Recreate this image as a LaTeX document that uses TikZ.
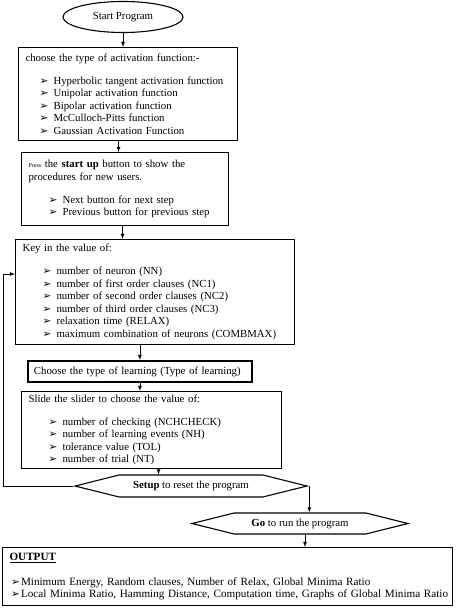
\documentclass[tikz,border=0pt]{standalone}
\usepackage{fontspec}
\setmainfont{Liberation Serif}
\newfontfamily\dingfont{DejaVu Sans}
\usepackage{tikz}
\usetikzlibrary{shapes.geometric}
\usetikzlibrary{shapes.symbols}
\usetikzlibrary{arrows}
% bullet with indent
\newcommand{\itm}[2][14pt]{\hspace*{#2}\makebox[#1][l]{\dingfont\bfseries\fontsize{10.5}{10.5}\selectfont ➢}}

\begin{document}
\begin{tikzpicture}
          [x=1pt, y=-1pt, >=latex, thick,
           box/.style = {draw, line width=1.1pt, anchor=north west, align=left, inner xsep=7pt, inner ysep=0pt, font=\fontsize{10.8}{12.5}\selectfont},
           hex/.style = {draw, line width=1.1pt, signal, signal to=east and west, signal pointer angle=28, inner sep=0pt, font=\fontsize{10.8}{12.5}\selectfont}]
          \useasboundingbox (0,0) rectangle (456,608);
          \node[draw, ellipse, line width=1.1pt, minimum width=120pt, minimum height=31pt, font=\fontsize{10.8}{12}\selectfont] (start) at (123,17) {Start Program};
          \node[box, minimum width=219pt, minimum height=93pt, text width=205pt] (act) at (18,47) {choose the type of activation function:-\\[10.5pt]
            \itm{14pt}Hyperbolic tangent activation function\\
            \itm{14pt}Unipolar activation function\\
            \itm{14pt}Bipolar activation function\\
            \itm{14pt}McCulloch-Pitts function\\
            \itm{14pt}Gaussian Activation Function};
          \node[box, minimum width=207pt, minimum height=73pt, text width=193pt] (press) at (21,152) {{\fontsize{6}{6}\selectfont Press} the \textbf{start up} button to show the\\
            procedures for new users.\\[10.5pt]
            \itm{20pt}Next button for next step\\
            \itm{20pt}Previous button for previous step};
          \node[box, minimum width=279pt, minimum height=105pt, text width=265pt] (key) at (15,239) {Key in the value of:\\[10.5pt]
            \itm{20pt}number of neuron (NN)\\
            \itm{20pt}number of first order clauses (NC1)\\
            \itm{20pt}number of second order clauses (NC2)\\
            \itm{20pt}number of third order clauses (NC3)\\
            \itm{20pt}relaxation time (RELAX)\\
            \itm{20pt}maximum combination of neurons (COMBMAX)};
          \node[box, line width=1.8pt, minimum width=224pt, minimum height=21pt, text width=212pt, inner xsep=6pt] (learn) at (27,360) {Choose the type of learning (Type of learning)};
          \node[box, minimum width=260pt, minimum height=77pt, text width=246pt] (slide) at (21,391) {Slide the slider to choose the value of:\\[10.5pt]
            \itm{20pt}number of checking (NCHCHECK)\\
            \itm{20pt}number of learning events (NH)\\
            \itm{20pt}tolerance value (TOL)\\
            \itm{20pt}number of trial (NT)};
          \node[hex, minimum width=232pt, minimum height=22pt] (setup) at (191,486) {\textbf{Setup} to reset the program};
          \node[hex, minimum width=216pt, minimum height=21pt] (go) at (300,523.5) {\textbf{Go} to run the program};
          \node[box, minimum width=450pt, minimum height=58pt, text width=449pt, inner xsep=0.5pt, font=\fontsize{11.15}{12.5}\selectfont] (out) at (2,547) {\hspace*{6.5pt}\underline{\textbf{OUTPUT}}\\[12pt]
            \itm[10pt]{8pt}Minimum Energy, Random clauses, Number of Relax, Global Minima Ratio\\
            \itm[10pt]{8pt}Local Minima Ratio, Hamming Distance, Computation time, Graphs of Global Minima Ratio};
          \coordinate (back) at (3,274);

          \draw[->] (start.south) to (start.south |- act.north);
          \draw[->] ([xshift=-9.5pt]act.south) to ([xshift=-9.5pt]act.south |- press.north);
          \draw[->] ([xshift=-2.5pt]press.south) to ([xshift=-2.5pt]press.south |- key.north);
          \draw[->] (learn.north |- key.south) to (learn.north);
          \draw[->] (learn.south) to (learn.south |- slide.north);
          \draw[->] ([xshift=7pt]slide.south) to ([xshift=7pt]slide.south |- setup.north);
          \draw[->] (setup.east) to (setup.east |- go.north);
          \draw[->] ([xshift=5pt]go.south) to ([xshift=5pt]go.south |- out.north);
          \draw[->] (setup.west) -| (back) -- (back -| key.west);
\end{tikzpicture}
\end{document}
